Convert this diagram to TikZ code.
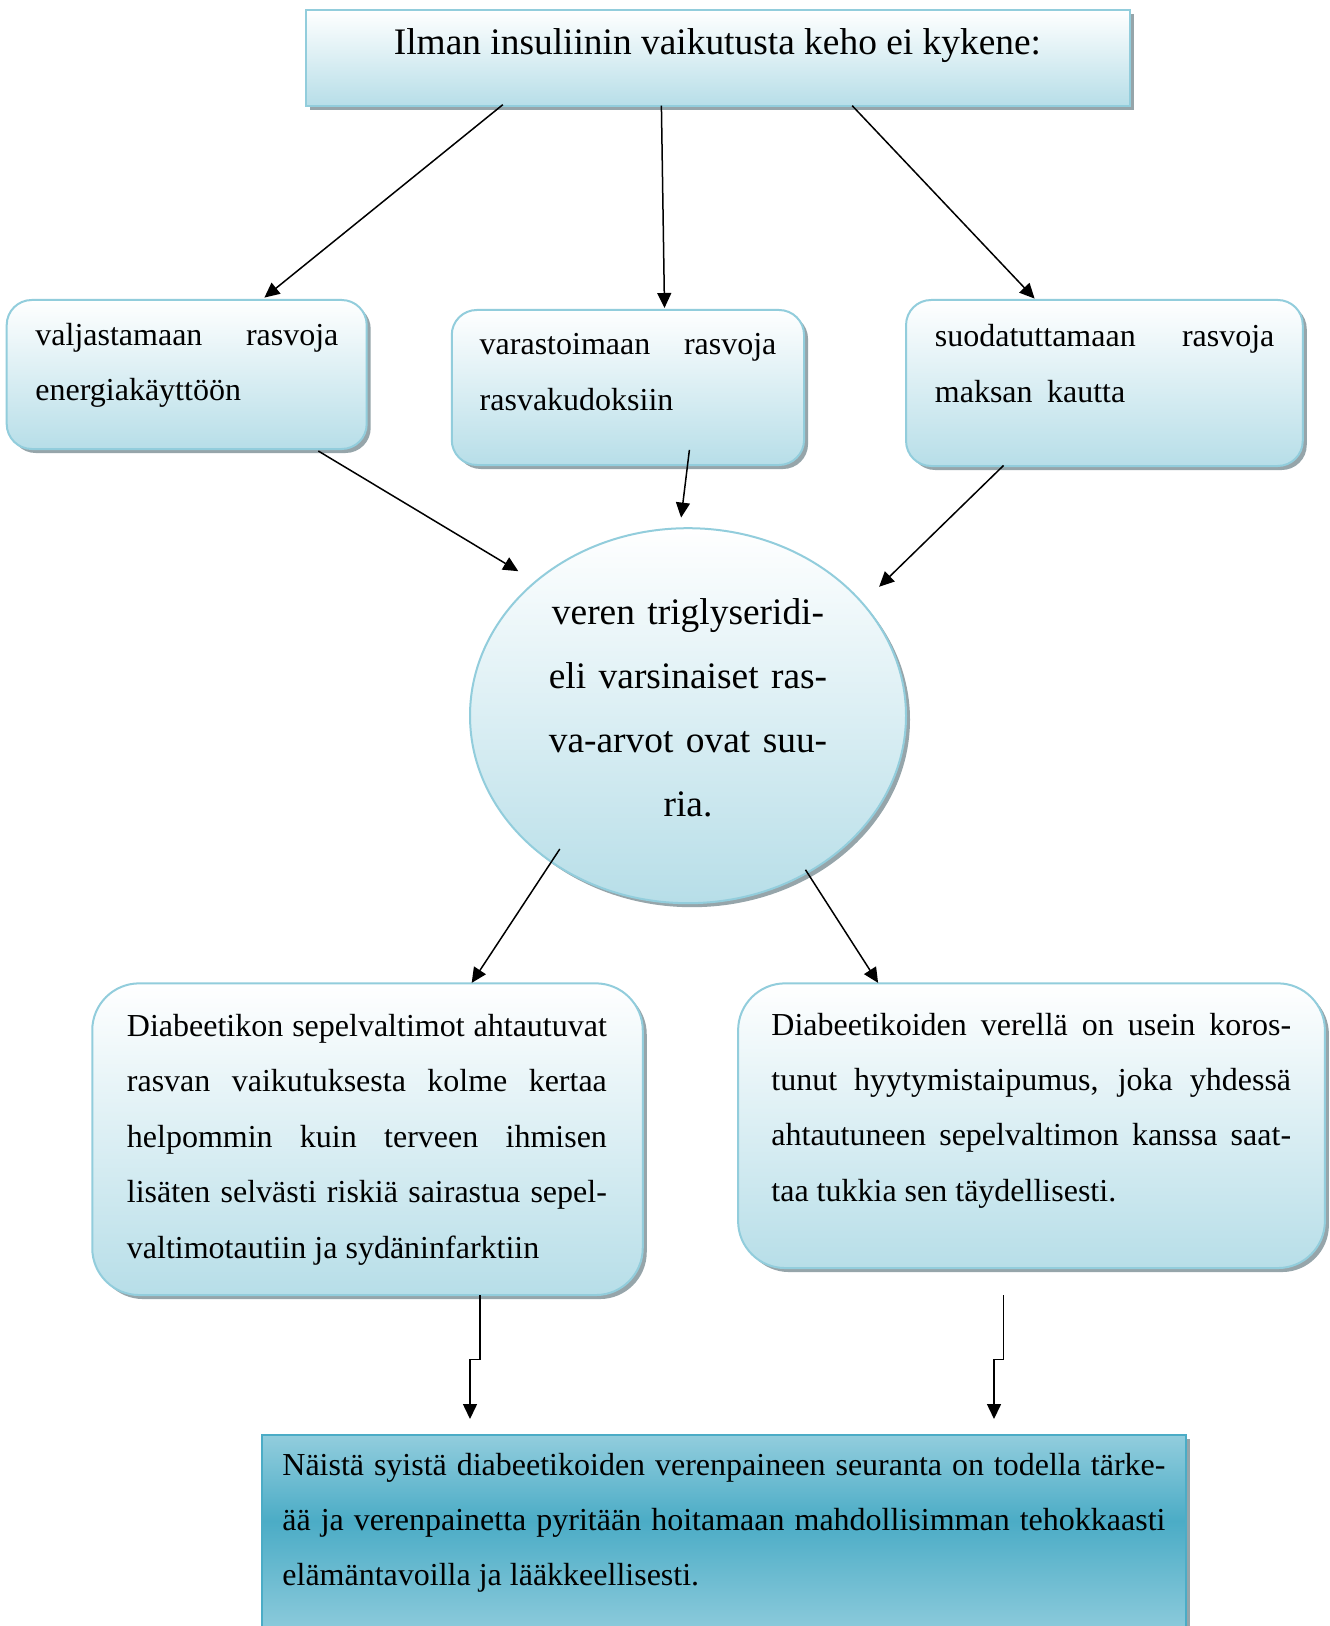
\documentclass[tikz,border=0pt]{standalone}
\usepackage{fontspec}
\setmainfont{Liberation Serif}
\usetikzlibrary{arrows.meta,shapes.geometric,shadows,calc}

\definecolor{rimblue}{RGB}{146,205,220}
\definecolor{paleblue}{RGB}{183,222,232}
\definecolor{deepblue}{RGB}{75,172,198}
\definecolor{midblue}{RGB}{146,205,221}
\definecolor{shadowgrey}{RGB}{150,165,170}

% teal band for the closing box: light at the rim, darkest a little above the middle
\pgfdeclareverticalshading{tealband}{100bp}{%
  color(0bp)=(midblue); color(25bp)=(midblue); color(54bp)=(deepblue);
  color(75bp)=(midblue); color(100bp)=(midblue)}

% the font's own stretchable word spaces
\newcommand{\fontspaces}{\spaceskip=0pt\xspaceskip=0pt\relax}
% one justified line spanning the whole text block
\newcommand{\fullline}[1]{\makebox[\hsize][s]{#1}}

\begin{document}
\begin{tikzpicture}[x=0.5pt,y=-0.5pt,
  boxshadow/.style={general shadow={shadow xshift=2pt,shadow yshift=-2pt,fill=shadowgrey}},
  panel/.style={boxshadow,draw=rimblue,line width=1pt,top color=white,bottom color=paleblue,inner sep=0pt},
  softbox/.style={panel,rectangle,rounded corners=12.5pt},
  bigbox/.style={panel,rectangle,rounded corners=23.5pt},
  txt/.style={inner sep=0pt,anchor=base west,align=left,font={\fontsize{16pt}{27.7pt}\selectfont}},
  bigtxt/.style={inner sep=0pt,font={\fontsize{18.7pt}{32.1pt}\selectfont}},
  arrow/.style={line width=0.75pt,-{Triangle[length=7.5pt,width=7pt]}}]

\fill[white] (0,0) rectangle (1329,1626);
\path[use as bounding box,clip] (0,0) rectangle (1329,1626);

% heading
\node[panel,rectangle,minimum width=412.1pt,minimum height=47.65pt] (head) at (717.9,58.05) {};
\node[bigtxt,anchor=base] (headtxt) at (717.4,55) {Ilman insuliinin vaikutusta keho ei kykene:};

% three things the body cannot do
\node[softbox,minimum width=180pt,minimum height=74.5pt] (b1) at (186.7,374.5) {};
\node[txt,text width=151.5pt] (t1) at (35,345)
  {\fontspaces\fullline{valjastamaan rasvoja}\\energiakäyttöön};

\node[softbox,minimum width=176.15pt,minimum height=77.5pt] (b2) at (627.9,387.5) {};
\node[txt,text width=148.35pt] (t2) at (479.3,355)
  {\fontspaces\fullline{varastoimaan rasvoja}\\rasvakudoksiin};

\node[softbox,minimum width=198.35pt,minimum height=83pt] (b3) at (1104.4,383) {};
\node[txt,text width=169.75pt] (t3) at (934.5,347)
  {\fontspaces\fullline{suodatuttamaan rasvoja}\\maksan\hspace{0.45em}kautta};

% consequence in the blood
\node[panel,ellipse,minimum width=218pt,minimum height=187.5pt] (ell) at (688,715.7) {};
\node[bigtxt,anchor=base,text width=150pt,align=center] (elltxt) at (688,624)
  {veren triglyseridi-\\eli varsinaiset ras-\\va-arvot ovat suu-\\ria.};

% effects on the arteries and the blood
\node[bigbox,minimum width=275.25pt,minimum height=155.85pt] (b4) at (367.5,1139.2) {};
\node[txt,text width=240pt] (t4) at (126.5,1036.5)
  {\fontspaces
   \fullline{Diabeetikon sepelvaltimot ahtautuvat}\\
   \fullline{rasvan vaikutuksesta kolme kertaa}\\
   \fullline{helpommin kuin terveen ihmisen}\\
   \fullline{lisäten selvästi riskiä sairastua sepel-}\\
   valtimotautiin ja sydäninfarktiin};

\node[bigbox,minimum width=293.4pt,minimum height=142.35pt] (b5) at (1031.5,1125.7) {};
\node[txt,text width=259.85pt] (t5) at (771,1035)
  {\fontspaces
   \fullline{Diabeetikoiden verellä on usein koros-}\\
   \fullline{tunut hyytymistaipumus, joka yhdessä}\\
   \fullline{ahtautuneen sepelvaltimon kanssa saat-}\\
   taa tukkia sen täydellisesti.};

% conclusion
\node[boxshadow,rectangle,draw=deepblue,line width=1pt,shading=tealband,inner sep=0pt,
      minimum width=461.85pt,minimum height=102.5pt] (last) at (724.2,1537.5) {};
\node[txt,text width=441.5pt,font={\fontsize{16pt}{27.5pt}\selectfont}] (t6) at (282,1475)
  {\fontspaces
   \fullline{Näistä syistä diabeetikoiden verenpaineen seuranta on todella tärke-}\\
   \fullline{ää ja verenpainetta pyritään hoitamaan mahdollisimman tehokkaasti}\\
   elämäntavoilla ja lääkkeellisesti.};

% connectors
\draw[arrow] ($(head.south)+(-215.1,-2)$) -- ($(b1.north)+(77.7,-1.4)$);
\draw[arrow] ($(head.south)+(-56.5,-1)$) -- ($(b2.north)+(36.6,-1)$);
\draw[arrow] ($(head.south)+(134.3,-1)$) -- ($(b3.north)+(-69.8,-0.4)$);

\draw[arrow] ($(b1.south)+(131.6,1)$) -- ($(ell.center)+(-169.7,-144.5)$);
\draw[arrow] ($(b2.south)+(61.5,-16.1)$) -- ($(ell.north)+(-6.9,-9.6)$);
\draw[arrow] ($(b3.south)+(-100.9,-1.5)$) -- ($(ell.center)+(191.1,-128.9)$);

\draw[arrow] ($(ell.center)+(-128.2,133.3)$) -- ($(b4.north)+(104.2,0.5)$);
\draw[arrow] ($(ell.center)+(117.5,154.1)$) -- ($(b5.north)+(-153.4,0.5)$);

\draw[arrow] ($(b4.south)+(112.5,-1)$) -- ++(0,64.3) -| ($(last.north)+(-254.2,-15)$);
\draw[arrow] ($(b5.south)+(-28.2,26)$) -- ++(0,64.3) -| ($(last.north)+(269.8,-15)$);
\end{tikzpicture}
\end{document}
